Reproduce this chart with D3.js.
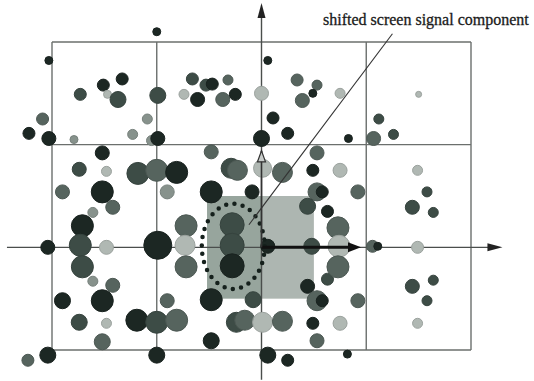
<!DOCTYPE html>
<html><head><meta charset="utf-8">
<script src="https://cdn.jsdelivr.net/npm/d3@7/dist/d3.min.js"></script>
<style>body{margin:0;background:#fff}svg{display:block}</style>
</head><body>
<svg id="c" width="534" height="381"></svg>
<script>
// grid lines (grid units, 10 per cell)
const gridX = [-20, -10, 10, 20];
const gridY = [-10, 10, 20];
const gridExtentX = [-20, 20];
const gridExtentY = [-10, 20];
const axisExtentX = [-24.3, 23.0];
const axisExtentY = [-12.9, 23.8];
const label = "shifted screen signal component";

// points: [x, y, amplitude, tone]  tone 0=black .. 4=very light
const dotsOuter = [
  [-10.0,21.0,0.4,0],[-20.3,18.2,0.4,0],[0.6,18.2,0.4,0],
  [-22.2,11.1,0.6,0],[-20.9,12.5,0.6,2],[-20.3,10.6,0.7,0],
  [-22.3,-11.0,0.6,2],[-20.4,-10.5,0.8,0],[-20.4,0,0.7,0]
];
const dotsTopLeft = [
  [-17.3,14.9,0.6,1],[-15.1,15.8,0.6,0],[-13.3,16.4,0.6,0],[-14.7,14.9,0.4,4],
  [-13.7,14.4,0.8,1],[-9.9,14.8,0.8,1],[-17.9,10.5,0.4,3],[-12.3,11.0,0.5,3],
  [-10.9,12.5,0.5,3],[-10.5,10.4,0.5,3],[-9.9,10.6,0.7,0]
];
const dotsTopMid = [
  [-6.6,16.4,0.6,1],[-5.3,15.8,0.6,1],[-4.7,15.9,0.6,0],[-3.2,16.3,0.5,2],
  [-7.4,14.9,0.5,4],[-6.1,14.4,0.7,0],[-3.7,14.4,0.7,2],[-2.5,14.9,0.6,0],
  [0,15.0,0.7,4],[1.1,12.6,0.6,0],[2.5,11.1,0.6,0],[0,10.6,0.8,0],
  [3.4,16.3,0.6,2],[5.3,15.8,0.5,2],[3.9,14.3,0.7,2],[4.9,15.0,0.4,0],
  [7.5,15.0,0.5,4],[8.3,10.6,0.4,0],[11.2,12.5,0.5,1],[12.6,11.0,0.5,1],
  [10.7,10.6,0.7,2],[15.0,14.9,0.3,4]
];
const dotsRight = [
  [14.9,7.5,0.5,4],[15.8,5.4,0.5,1],[14.4,3.9,0.7,1],[16.4,3.4,0.5,1],
  [9.2,5.4,0.7,2],[14.9,0,0.6,4],[10.6,0.1,0.6,2],[11.1,0.1,0.4,0],
  [14.4,-3.8,0.7,1],[16.4,-3.2,0.5,1],[15.8,-5.2,0.5,1],[14.9,-7.4,0.5,4],
  [9.2,-5.2,0.7,2]
];
const dotsLeft = [
  [-15.2,9.2,0.7,0],[-17.4,7.6,0.7,1],[-14.8,7.4,0.5,4],[-19.0,5.4,0.7,2],
  [-15.2,5.4,1.1,0],[-14.2,3.9,0.7,2],[-16.1,3.4,0.5,3],[-17.1,2.1,1.1,0],
  [-17.3,0.2,1.1,1],[-14.8,0,0.7,4],[-17.1,-1.9,1.1,1],[-16.1,-3.3,0.5,3],
  [-14.2,-3.7,0.7,2],[-15.2,-5.2,1.1,0],[-19.0,-5.2,0.8,0],[-17.4,-7.3,0.8,1],
  [-14.8,-7.4,0.5,4],[-15.2,-9.2,0.8,2],[-10.0,-10.5,0.8,0]
];
const dotsCenter = [
  [-4.8,9.3,0.7,2],[5.3,9.2,0.7,2],[-11.8,7.2,1.1,1],[-10.0,7.5,1.1,2],
  [-8.1,7.3,1.1,0],[-2.9,7.7,1.0,1],[-2.3,7.5,1.0,2],[0.1,7.7,0.9,4],
  [2.0,7.3,1.0,2],[4.9,7.5,0.6,0],[7.5,7.5,0.7,4],[-9.0,5.4,0.7,3],
  [-4.8,5.4,1.1,0],[-0.9,5.4,0.7,0],[5.3,5.4,0.9,2],[5.8,5.4,0.6,0],
  [4.4,4.0,0.8,1],[6.3,3.5,0.6,0],[7.3,1.9,1.1,2],[7.4,0.1,1.1,4],
  [4.8,0.1,0.8,1],[0.6,0.1,0.7,0],[-2.8,2.2,1.2,1],[-2.8,0.2,1.2,1],
  [-2.8,-1.8,1.2,0],[-7.2,2.1,1.1,2],[-7.3,0.2,1.0,4],[-7.2,-1.9,1.1,2],
  [-9.9,0.2,1.4,0]
];
const dotsBottom = [
  [-9.0,-5.2,0.7,2],[-11.9,-7.1,1.1,0],[-10.0,-7.3,1.1,1],[-8.1,-7.1,1.1,2],
  [-4.8,-5.1,1.1,0],[-0.8,-5.1,0.8,1],[-2.4,-7.3,1.0,1],[-1.6,-7.1,1.0,2],
  [0.1,-7.3,1.0,4],[2.0,-7.2,1.0,2],[-4.8,-9.1,0.8,0],[0.6,-10.5,0.8,0],
  [2.5,-11.0,0.6,0],[8.2,-10.4,0.4,0],[4.4,-3.8,0.7,0],[6.3,-3.1,0.6,1],
  [7.3,-1.9,1.1,2],[5.3,-5.2,1.0,2],[5.8,-5.2,0.6,0],[4.9,-7.4,0.6,0],
  [7.5,-7.4,0.7,4],[5.3,-9.1,0.7,2]
];
// shaded region [x0,x1,y0,y1]
const shadeLeft = [-5.2, 0, -5.0, 5.0];
const shadeRight = [0, 5.0, -5.0, 5.0];
// dotted ellipse [cx, cy, rx, ry]
const ellipse = [-2.7, 0.1, 3.0, 4.15];
// shifted component arrows (end points)
const arrowRightEnd = 9.5;
const arrowUpEnd = 9.4;
// label leader line [x0,y0,x1,y1]
const leader = [12.5, 20.8, -1.2, 2.2];

const toneColors = ["#1c2723", "#3d4c46", "#56645e", "#87928c", "#b0b8b3"];

const svg = d3.select("#c");
const x = d3.scaleLinear().domain([-20, 20]).range([52, 471]);
const y = d3.scaleLinear().domain([-10, 20]).range([350, 42]);
const rs = d3.scaleLinear().domain([0, 1.4]).range([0, 14]);
const tone = d3.scaleOrdinal().domain([0,1,2,3,4]).range(toneColors);

// shaded squares
svg.append("rect").attr("x", x(shadeLeft[0])).attr("y", y(shadeLeft[3]))
  .attr("width", x(shadeLeft[1]) - x(shadeLeft[0])).attr("height", y(shadeLeft[2]) - y(shadeLeft[3]))
  .attr("fill", "#97a59d");
svg.append("rect").attr("x", x(shadeRight[0])).attr("y", y(shadeRight[3]))
  .attr("width", x(shadeRight[1]) - x(shadeRight[0])).attr("height", y(shadeRight[2]) - y(shadeRight[3]))
  .attr("fill", "#adb6b1");

// grid
const g = svg.append("g").attr("stroke", "#6b6f6d").attr("stroke-width", 1.4);
g.selectAll("line.gx").data(gridX).join("line").attr("class","gx")
  .attr("x1", d => x(d)).attr("x2", d => x(d))
  .attr("y1", y(gridExtentY[1])).attr("y2", y(gridExtentY[0]));
g.selectAll("line.gy").data(gridY).join("line").attr("class","gy")
  .attr("y1", d => y(d)).attr("y2", d => y(d))
  .attr("x1", x(gridExtentX[0])).attr("x2", x(gridExtentX[1]));

// axes
const ax = svg.append("g").attr("stroke", "#4a4e4c").attr("stroke-width", 1.4);
ax.append("line").attr("x1", x(axisExtentX[0])).attr("x2", x(axisExtentX[1]) - 6)
  .attr("y1", y(0)).attr("y2", y(0));
ax.append("line").attr("x1", x(0)).attr("x2", x(0))
  .attr("y1", y(axisExtentY[0])).attr("y2", y(axisExtentY[1]) + 6);
const ex = x(axisExtentX[1]), ey = y(axisExtentY[1]);
svg.append("path").attr("d", `M${ex},${y(0)}L${ex-15},${y(0)-4}L${ex-15},${y(0)+4}Z`).attr("fill", "#222");
svg.append("path").attr("d", `M${x(0)},${ey}L${x(0)-4},${ey+15}L${x(0)+4},${ey+15}Z`).attr("fill", "#222");

// dots
const allDots = [].concat(dotsOuter, dotsTopLeft, dotsTopMid, dotsRight, dotsLeft, dotsCenter, dotsBottom);
svg.append("g").selectAll("circle").data(allDots).join("circle")
  .attr("cx", d => x(d[0])).attr("cy", d => y(d[1])).attr("r", d => rs(d[2]))
  .attr("fill", d => tone(d[3]))
  .attr("stroke", d => d3.color(tone(d[3])).darker(0.35))
  .attr("stroke-width", 1);

// dotted ellipse
svg.append("ellipse").attr("cx", x(ellipse[0])).attr("cy", y(ellipse[1]))
  .attr("rx", x(ellipse[2]) - x(0)).attr("ry", y(0) - y(ellipse[3]))
  .attr("fill", "none").attr("stroke", "#15201c").attr("stroke-width", 4.5)
  .attr("stroke-linecap", "round").attr("stroke-dasharray", "0 8.4");

// thick arrow right
const ar = x(arrowRightEnd);
svg.append("line").attr("x1", x(0)).attr("x2", ar - 10).attr("y1", y(0)).attr("y2", y(0))
  .attr("stroke", "#111").attr("stroke-width", 3);
svg.append("path").attr("d", `M${ar},${y(0)}L${ar-13},${y(0)-5}L${ar-13},${y(0)+5}Z`).attr("fill", "#111");
// up arrow (thin, open head)
const au = y(arrowUpEnd);
svg.append("line").attr("x1", x(0)).attr("x2", x(0)).attr("y1", y(0)).attr("y2", au)
  .attr("stroke", "#333").attr("stroke-width", 1.6);
svg.append("path").attr("d", `M${x(0)-4},${au+11}L${x(0)},${au}L${x(0)+4},${au+11}Z`)
  .attr("fill", "#c8ccca").attr("stroke", "#333").attr("stroke-width", 1.2);

// leader line
svg.append("line").attr("x1", x(leader[0])).attr("y1", y(leader[1]))
  .attr("x2", x(leader[2])).attr("y2", y(leader[3]))
  .attr("stroke", "#333").attr("stroke-width", 1.1);

// label
svg.append("text").attr("x", 323).attr("y", 25)
  .attr("font-family", "'Liberation Serif', 'Times New Roman', serif")
  .attr("font-size", 16).attr("fill", "#1a1a1a")
  .attr("stroke", "#1a1a1a").attr("stroke-width", 0.3).text(label);
</script>
</body></html>
